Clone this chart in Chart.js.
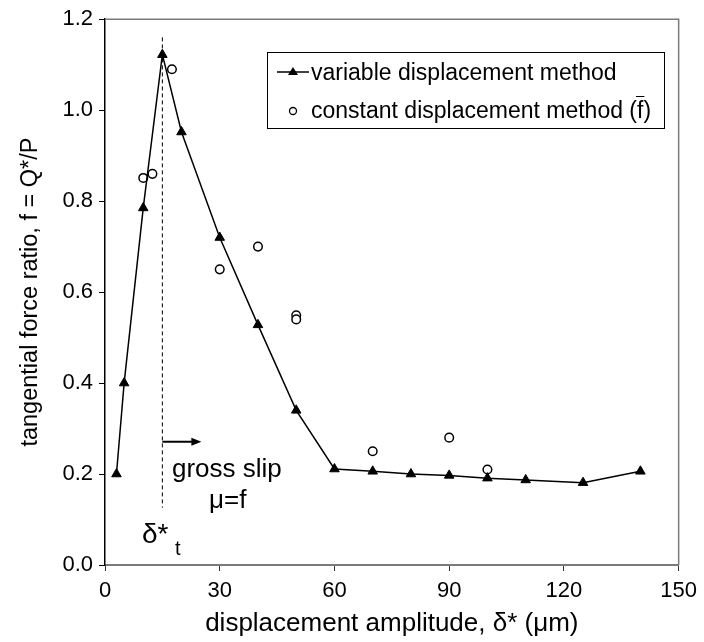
<!DOCTYPE html>
<html>
<head>
<meta charset="utf-8">
<script src="https://cdn.jsdelivr.net/npm/chart.js@4.4.1/dist/chart.umd.min.js"></script>
<style>
  html, body { margin: 0; padding: 0; background: #fff; }
  #wrap { width: 704px; height: 642px; }
</style>
</head>
<body>
<div id="wrap"><canvas id="mainChart" width="704" height="642"></canvas></div>
<script>
    // variable displacement method (triangles + line)
    const varX = [3, 5, 10, 15, 20, 30, 40, 50, 60, 70, 80, 90, 100, 110, 125, 140];
    const varF = [0.20, 0.40, 0.785, 1.122, 0.952, 0.72, 0.528, 0.34, 0.211, 0.206, 0.20, 0.197, 0.191, 0.187, 0.181, 0.206];

    // constant displacement method (open circles)
    const constX = [10, 12.4, 17.5, 30, 40, 50, 50, 70, 90, 100];
    const constF = [0.851, 0.86, 1.09, 0.65, 0.70, 0.549, 0.540, 0.25, 0.28, 0.21];

    const xTicks = [0, 30, 60, 90, 120, 150];
    const yTicks = [0, 0.2, 0.4, 0.6, 0.8, 1.0, 1.2];

    const transitionX = 15; // delta*_t
    const FONT = '"Liberation Sans", Arial, sans-serif';

    const toPts = (xs, ys) => xs.map((x, i) => ({ x: x, y: ys[i] }));

    // draws frame, legend, dashed transition line, arrow and labels
    const extras = {
        id: 'extras',
        afterDraw(chart) {
            const { ctx, chartArea: a, scales: { x, y } } = chart;
            ctx.save();

            // plot frame (top / right)
            ctx.strokeStyle = '#7a7a7a';
            ctx.lineWidth = 1.5;
            ctx.beginPath();
            ctx.moveTo(a.left, a.top);
            ctx.lineTo(a.right, a.top);
            ctx.lineTo(a.right, a.bottom);
            ctx.stroke();

            // dashed line at delta*_t
            const tx = x.getPixelForValue(transitionX);
            ctx.strokeStyle = '#000';
            ctx.lineWidth = 1;
            ctx.setLineDash([4, 3]);
            ctx.beginPath();
            ctx.moveTo(tx, y.getPixelForValue(1.16));
            ctx.lineTo(tx, y.getPixelForValue(0.126));
            ctx.stroke();
            ctx.setLineDash([]);

            // arrow
            const ay = y.getPixelForValue(0.271);
            const ax2 = x.getPixelForValue(25.2);
            ctx.lineWidth = 2;
            ctx.beginPath();
            ctx.moveTo(tx, ay);
            ctx.lineTo(ax2 - 8, ay);
            ctx.stroke();
            ctx.fillStyle = '#000';
            ctx.beginPath();
            ctx.moveTo(ax2, ay);
            ctx.lineTo(ax2 - 10, ay - 4);
            ctx.lineTo(ax2 - 10, ay + 4);
            ctx.closePath();
            ctx.fill();

            // labels
            ctx.fillStyle = '#000';
            ctx.textBaseline = 'alphabetic';
            ctx.textAlign = 'left';
            ctx.font = '26px ' + FONT;
            ctx.fillText('gross slip', 172, 477);
            ctx.fillText('\u03bc=f', 209, 508);
            ctx.font = '28px ' + FONT;
            ctx.fillText('\u03b4*', 142, 543);
            ctx.font = '20px ' + FONT;
            ctx.fillText('t', 175, 555);

            // legend
            const lx = 267, ly = 52, lw = 397, lh = 76;
            ctx.fillStyle = '#fff';
            ctx.fillRect(lx, ly, lw, lh);
            ctx.strokeStyle = '#000';
            ctx.lineWidth = 1;
            ctx.strokeRect(lx + 0.5, ly + 0.5, lw, lh);

            const mx = 293, r1 = 72, r2 = 111;
            ctx.lineWidth = 1.5;
            ctx.beginPath();
            ctx.moveTo(277, r1);
            ctx.lineTo(309, r1);
            ctx.stroke();
            ctx.fillStyle = '#000';
            ctx.beginPath();
            ctx.moveTo(mx, r1 - 5);
            ctx.lineTo(mx + 5, r1 + 3);
            ctx.lineTo(mx - 5, r1 + 3);
            ctx.closePath();
            ctx.fill();

            ctx.beginPath();
            ctx.arc(mx, r2, 3.5, 0, Math.PI * 2);
            ctx.lineWidth = 1.3;
            ctx.stroke();

            ctx.fillStyle = '#000';
            ctx.font = '23px ' + FONT;
            const tx0 = 311;
            ctx.fillText('variable displacement method', tx0, 80);
            ctx.fillText('constant displacement method (f)', tx0, 118);
            // overline over "f"
            const pre = ctx.measureText('constant displacement method (').width;
            const fw = ctx.measureText('f').width;
            ctx.lineWidth = 1;
            ctx.beginPath();
            ctx.moveTo(tx0 + pre - 1, 96.5);
            ctx.lineTo(tx0 + pre + fw + 1, 96.5);
            ctx.stroke();

            ctx.restore();
        }
    };

    new Chart(document.getElementById('mainChart').getContext('2d'), {
        type: 'scatter',
        data: {
            datasets: [{
                label: 'variable displacement method',
                data: toPts(varX, varF),
                showLine: true,
                borderColor: '#000',
                backgroundColor: '#000',
                borderWidth: 1.5,
                pointStyle: 'triangle',
                pointRadius: 5.5,
                pointBorderWidth: 1,
                tension: 0
            }, {
                label: 'constant displacement method',
                data: toPts(constX, constF),
                showLine: false,
                borderColor: '#000',
                backgroundColor: '#fff',
                pointStyle: 'circle',
                pointRadius: 4.3,
                pointBorderWidth: 1.5
            }]
        },
        options: {
            responsive: false,
            animation: false,
            layout: { padding: { top: 15, right: 22, left: 0, bottom: 0 } },
            plugins: { legend: { display: false }, tooltip: { enabled: false } },
            scales: {
                x: {
                    type: 'linear', min: 0, max: 150,
                    afterBuildTicks: (s) => { s.ticks = xTicks.map(v => ({ value: v })); },
                    afterFit: (s) => { s.height = 77; },
                    grid: { drawOnChartArea: false, drawTicks: true, tickLength: 6, color: '#333', lineWidth: 1 },
                    border: { display: true, color: '#7a7a7a', width: 2 },
                    ticks: { color: '#000', padding: 7, font: { family: FONT, size: 22 } },
                    title: {
                        display: true, text: 'displacement amplitude, \u03b4* (\u03bcm)', color: '#000',
                        font: { family: FONT, size: 26 }, padding: { top: 0, bottom: 3 }
                    }
                },
                y: {
                    type: 'linear', min: 0, max: 1.2,
                    afterBuildTicks: (s) => { s.ticks = yTicks.map(v => ({ value: v })); },
                    afterFit: (s) => { s.width = 105; },
                    grid: { drawOnChartArea: false, drawTicks: true, tickLength: 6, color: '#000', lineWidth: 1 },
                    border: { display: true, color: '#000', width: 1.5 },
                    ticks: { color: '#000', padding: 6, font: { family: FONT, size: 22 }, callback: v => v.toFixed(1) },
                    title: {
                        display: true, text: 'tangential force ratio, f = Q*/P', color: '#000',
                        font: { family: FONT, size: 23.5 }, padding: { top: 16, bottom: 0 }
                    }
                }
            }
        },
        plugins: [extras]
    });
</script>
</body>
</html>
